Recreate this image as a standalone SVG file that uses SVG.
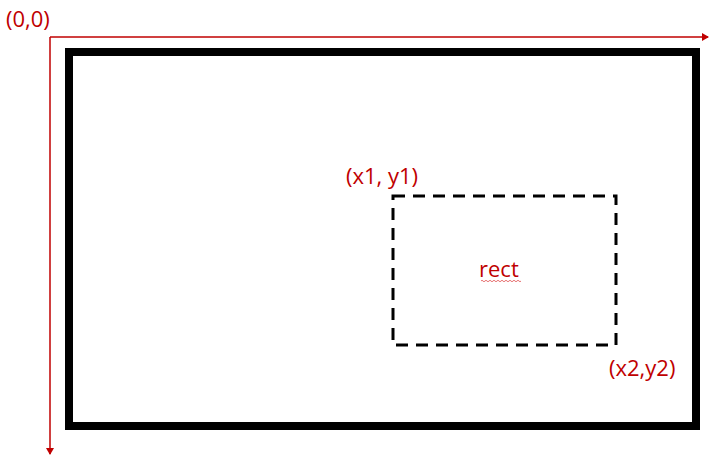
<svg xmlns="http://www.w3.org/2000/svg" width="727" height="471" viewBox="0 0 727 471">
<style>
.lbl{font-family:"Open Sans","Liberation Sans",sans-serif;font-size:22px;fill:#C00000}
.axis{stroke:#C00000;stroke-width:1.5;fill:none}
</style>
<defs>
<marker id="ah" markerWidth="8" markerHeight="8" refX="6" refY="4" orient="auto" markerUnits="userSpaceOnUse">
<path d="M0,0 L7,4 L0,8 z" fill="#C00000"/>
</marker>
</defs>
<rect width="727" height="471" fill="#fff"/>
<g id="connectors">
<line class="axis" x1="50" y1="37" x2="708" y2="37" marker-end="url(#ah)"/>
<line class="axis" x1="50" y1="37" x2="50" y2="454" marker-end="url(#ah)"/>
</g>
<g id="frame">
<rect x="69" y="52" width="627" height="374" fill="none" stroke="#000" stroke-width="8"/>
</g>
<g id="rect">
<rect x="393" y="196" width="223" height="149" fill="none" stroke="#000" stroke-width="3" stroke-dasharray="12,8"/>
<text class="lbl" x="479" y="277">rect</text>
<path d="M481,281 q1,-1.5 2,0 t2,0 t2,0 t2,0 t2,0 t2,0 t2,0 t2,0 t2,0 t2,0 t2,0 t2,0 t2,0 t2,0 t2,0 t2,0 t2,0 t2,0 t2,0 t2,0" fill="none" stroke="#E05050" stroke-width="0.8"/>
</g>
<g id="origin"><text class="lbl" x="6" y="27">(0,0)</text></g>
<g id="p1"><text class="lbl" x="346" y="184">(x1, y1)</text></g>
<g id="p2"><text class="lbl" x="609" y="376">(x2,y2)</text></g>
</svg>
